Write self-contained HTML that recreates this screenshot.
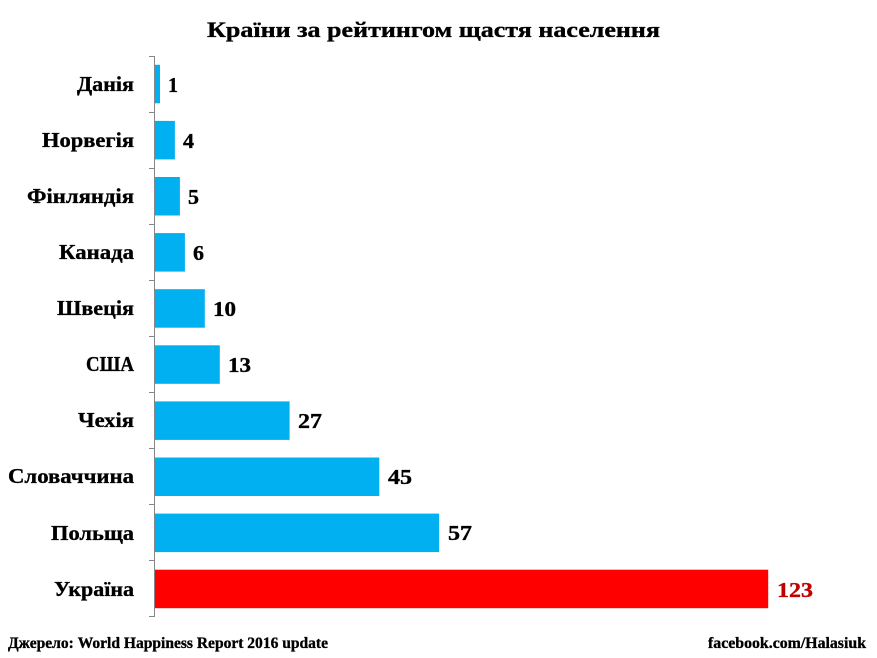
<!DOCTYPE html>
<html><head><meta charset="utf-8"><style>
html,body{margin:0;padding:0;background:#fff;}
svg{display:block;}
text{font-family:"Liberation Serif","Noto Serif CJK SC",serif;font-weight:bold;fill:#000;stroke:#000;stroke-width:0.35;}
</style></head><body>
<svg width="877" height="658" viewBox="0 0 877 658" xmlns="http://www.w3.org/2000/svg">
<rect width="877" height="658" fill="#fff"/>
<text x="207" y="37" font-size="22" textLength="453" lengthAdjust="spacingAndGlyphs">Країни за рейтингом щастя населення</text>

<!-- axis -->
<line x1="154.5" y1="56" x2="154.5" y2="617" stroke="#868686" stroke-width="1"/>
<g stroke="#868686" stroke-width="1">
<line x1="149" y1="56.5" x2="154" y2="56.5"/>
<line x1="149" y1="112.5" x2="154" y2="112.5"/>
<line x1="149" y1="168.5" x2="154" y2="168.5"/>
<line x1="149" y1="224.5" x2="154" y2="224.5"/>
<line x1="149" y1="280.5" x2="154" y2="280.5"/>
<line x1="149" y1="336.5" x2="154" y2="336.5"/>
<line x1="149" y1="392.5" x2="154" y2="392.5"/>
<line x1="149" y1="448.5" x2="154" y2="448.5"/>
<line x1="149" y1="504.5" x2="154" y2="504.5"/>
<line x1="149" y1="560.5" x2="154" y2="560.5"/>
<line x1="149" y1="616.5" x2="154" y2="616.5"/>
</g>

<!-- bars -->
<g fill="#00B0F0">
<rect x="155" y="64.8" width="5" height="38.5"/>
<rect x="155" y="120.9" width="19.9" height="38.5"/>
<rect x="155" y="177" width="24.9" height="38.5"/>
<rect x="155" y="233.1" width="29.9" height="38.5"/>
<rect x="155" y="289.2" width="49.8" height="38.5"/>
<rect x="155" y="345.3" width="64.8" height="38.5"/>
<rect x="155" y="401.4" width="134.6" height="38.5"/>
<rect x="155" y="457.5" width="224.3" height="38.5"/>
<rect x="155" y="513.6" width="284.1" height="38.5"/>
</g>
<rect x="155" y="569.7" width="613.2" height="38.5" fill="#FF0000"/>

<!-- category labels -->
<g font-size="21" text-anchor="end">
<text x="134" y="91" textLength="57" lengthAdjust="spacingAndGlyphs">Данія</text>
<text x="134" y="147" textLength="92" lengthAdjust="spacingAndGlyphs">Норвегія</text>
<text x="134" y="203" textLength="107" lengthAdjust="spacingAndGlyphs">Фінляндія</text>
<text x="134" y="259" textLength="75" lengthAdjust="spacingAndGlyphs">Канада</text>
<text x="134" y="315" textLength="77" lengthAdjust="spacingAndGlyphs">Швеція</text>
<text x="134" y="371" textLength="48" lengthAdjust="spacingAndGlyphs">США</text>
<text x="134" y="427" textLength="56" lengthAdjust="spacingAndGlyphs">Чехія</text>
<text x="134" y="483" textLength="126" lengthAdjust="spacingAndGlyphs">Словаччина</text>
<text x="134" y="540" textLength="83" lengthAdjust="spacingAndGlyphs">Польща</text>
<text x="134" y="596" textLength="80" lengthAdjust="spacingAndGlyphs">Україна</text>
</g>

<!-- value labels -->
<g font-size="21">
<text x="168" y="92" textLength="10" lengthAdjust="spacingAndGlyphs">1</text>
<text x="183" y="148" textLength="11" lengthAdjust="spacingAndGlyphs">4</text>
<text x="188" y="204" textLength="11" lengthAdjust="spacingAndGlyphs">5</text>
<text x="193" y="260" textLength="11" lengthAdjust="spacingAndGlyphs">6</text>
<text x="213" y="316" textLength="23" lengthAdjust="spacingAndGlyphs">10</text>
<text x="228" y="372" textLength="23" lengthAdjust="spacingAndGlyphs">13</text>
<text x="298" y="428" textLength="24" lengthAdjust="spacingAndGlyphs">27</text>
<text x="388" y="484" textLength="24" lengthAdjust="spacingAndGlyphs">45</text>
<text x="448" y="540" textLength="24" lengthAdjust="spacingAndGlyphs">57</text>
<text x="777" y="597" textLength="36" lengthAdjust="spacingAndGlyphs" style="fill:#C00000;stroke:#C00000">123</text>
</g>

<!-- footer -->
<text x="8" y="648" font-size="16" textLength="320" lengthAdjust="spacingAndGlyphs">Джерело: World Happiness Report 2016 update</text>
<text x="708" y="648" font-size="16" textLength="158" lengthAdjust="spacingAndGlyphs">facebook.com/Halasiuk</text>
</svg>
</body></html>
